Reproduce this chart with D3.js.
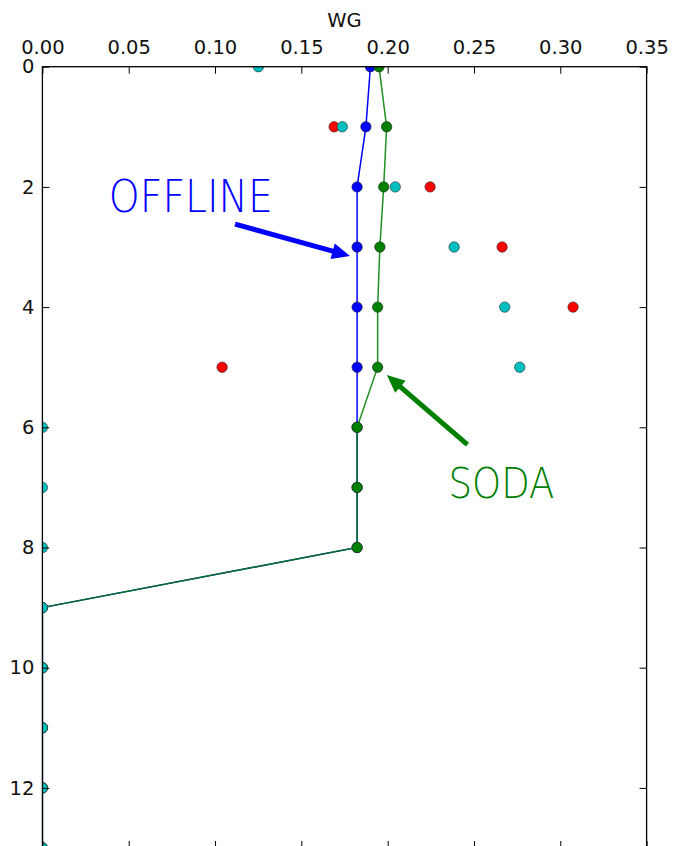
<!DOCTYPE html>
<html>
<head>
<meta charset="utf-8">
<script src="https://cdn.jsdelivr.net/npm/d3@7"></script>
<style>
    body { margin: 0; background: #fff; }
    text { font-family: "DejaVu Sans", sans-serif; }
</style>
</head>
<body>
<div id="chart"></div>
<script>
// depth levels and the four profiles
const depths = [0, 1, 2, 3, 4, 5, 6, 7, 8, 9, 10, 11, 12, 13];
const offline = [0.190, 0.1874, 0.1823, 0.1823, 0.1823, 0.1823, 0.1823, 0.1823, 0.1823, 0, 0, 0, 0, 0];
const soda = [0.195, 0.1994, 0.1977, 0.1955, 0.1942, 0.1942, 0.1823, 0.1823, 0.1823, 0, 0, 0, 0, 0];
const cyanObs = [0.1251, 0.1737, 0.2044, 0.2385, 0.2678, 0.2765, 0, 0, 0, 0, 0, 0, 0, 0];
const redDepths = [1, 2, 3, 4, 5];
const redObs = [0.169, 0.2246, 0.2663, 0.3074, 0.1041];
const xTicks = [0, 0.05, 0.10, 0.15, 0.20, 0.25, 0.30, 0.35];
const yTicks = [0, 2, 4, 6, 8, 10, 12];

const drawChart = function() {
    const margin = {top: 66.7, left: 42.4},
        width = 604.2,
        height = 781.3;

    const x = d3.scaleLinear().domain([0, 0.35]).range([0, width]);
    const y = d3.scaleLinear().domain([0, 13]).range([0, height]);

    const svg = d3.select("#chart").append("svg")
        .attr("width", 674)
        .attr("height", 846)
        .append("g")
        .attr("transform", "translate(" + margin.left + "," + margin.top + ")");

    svg.append("clipPath").attr("id", "plot-clip")
        .append("rect").attr("width", width).attr("height", height);

    const plot = svg.append("g").attr("clip-path", "url(#plot-clip)");

    const line = d3.line()
        .x(function(d) { return x(d[0]); })
        .y(function(d) { return y(d[1]); });

    const series = [
        {vals: offline, deps: depths, color: "#0000ff", line: true, opacity: 1},
        {vals: soda, deps: depths, color: "#008000", line: true, opacity: 0.88},
        {vals: redObs, deps: redDepths, color: "#ff0000", line: false},
        {vals: cyanObs, deps: depths, color: "#00bfbf", line: false}
    ];

    series.forEach(function(s) {
        const pts = s.vals.map(function(v, i) { return [v, s.deps[i]]; });
        if (s.line) {
            plot.append("path")
                .attr("d", line(pts))
                .attr("fill", "none")
                .attr("stroke", s.color)
                .attr("stroke-opacity", s.opacity)
                .attr("stroke-width", 1.5);
        }
        plot.selectAll(null)
            .data(pts)
            .enter().append("circle")
            .attr("cx", function(d) { return x(d[0]); })
            .attr("cy", function(d) { return y(d[1]); })
            .attr("r", 5.2)
            .attr("fill", s.color)
            .attr("stroke", "#222")
            .attr("stroke-width", 0.6);
    });

    // axes: ticks point inward like old matplotlib
    const top = svg.append("g")
        .call(d3.axisTop(x).tickValues(xTicks).tickFormat(d3.format(".2f")).tickSize(-7).tickPadding(12.5));
    svg.append("g")
        .attr("transform", "translate(0," + height + ")")
        .call(d3.axisBottom(x).tickValues(xTicks).tickFormat("").tickSize(-7));
    const left = svg.append("g")
        .call(d3.axisLeft(y).tickValues(yTicks).tickFormat(d3.format("d")).tickSize(-7).tickPadding(8));
    svg.append("g")
        .attr("transform", "translate(" + width + ",0)")
        .call(d3.axisRight(y).tickValues(yTicks).tickFormat("").tickSize(-7));

    svg.selectAll(".domain").remove();
    svg.selectAll(".tick line").attr("stroke", "#000");
    [top, left].forEach(function(g) {
        g.selectAll("text")
            .style("font-size", "19.5px")
            .attr("fill", "#111");
    });

    svg.append("rect")
        .attr("width", width)
        .attr("height", height)
        .attr("fill", "none")
        .attr("stroke", "#000")
        .attr("stroke-width", 1.3);

    // x axis label
    svg.append("text")
        .attr("x", width / 2)
        .attr("y", -39.4)
        .style("text-anchor", "middle")
        .style("font-size", "19.5px")
        .attr("fill", "#111")
        .text("WG");

    // annotations
    const arrow = function(x0, d0, x1, d1, color) {
        const ax = x(x0), ay = y(d0), bx = x(x1), by = y(d1);
        const len = Math.hypot(bx - ax, by - ay);
        const ux = (bx - ax) / len, uy = (by - ay) / len;
        const px = -uy, py = ux;
        const sw = 2.5, hw = 8, hl = 18;
        const hx = bx - ux * hl, hy = by - uy * hl;
        const pts = [
            [ax + px * sw, ay + py * sw],
            [hx + px * sw, hy + py * sw],
            [hx + px * hw, hy + py * hw],
            [bx, by],
            [hx - px * hw, hy - py * hw],
            [hx - px * sw, hy - py * sw],
            [ax - px * sw, ay - py * sw]
        ];
        svg.append("polygon")
            .attr("points", pts.map(function(p) { return p.join(","); }).join(" "))
            .attr("fill", color);
    };

    arrow(0.1116, 2.62, 0.1782, 3.15, "#0000ff");
    arrow(0.2462, 6.29, 0.1995, 5.13, "#008000");

    svg.append("text")
        .attr("x", x(0.0385))
        .attr("y", y(2.41))
        .attr("textLength", 164)
        .attr("lengthAdjust", "spacingAndGlyphs")
        .style("font-family", "'DejaVu Sans', sans-serif")
        .style("font-weight", "200")
        .style("font-size", "45px")
        .attr("fill", "#0000ff")
        .text("OFFLINE");

    svg.append("text")
        .attr("x", x(0.2352))
        .attr("y", y(7.17))
        .attr("textLength", 106)
        .attr("lengthAdjust", "spacingAndGlyphs")
        .style("font-family", "'DejaVu Sans', sans-serif")
        .style("font-weight", "200")
        .style("font-size", "42.5px")
        .attr("fill", "#008000")
        .text("SODA");
};

drawChart();
</script>
</body>
</html>
